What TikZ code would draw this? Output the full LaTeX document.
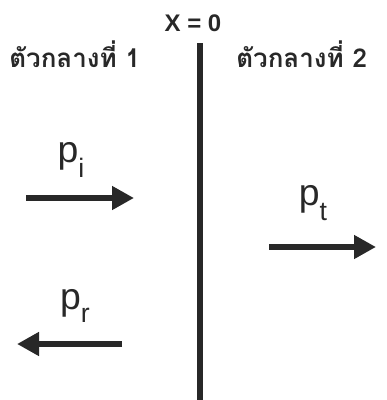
\documentclass[tikz,border=0pt]{standalone}
\usepackage{fontspec}
\setmainfont{Liberation Sans}
\newfontfamily\thaifont[Script=Thai]{Loma}
\usetikzlibrary{arrows.meta,positioning}
\definecolor{inkgray}{RGB}{40,40,40}

\begin{document}
\begin{tikzpicture}[x=0.75pt,y=-0.75pt,
    medium/.style={font=\thaifont\bfseries\fontsize{19.5}{19.5}\selectfont,
      text=inkgray,inner sep=0pt,anchor=west},
    plabel/.style={font=\fontsize{28}{28}\selectfont,text=inkgray,inner sep=0pt},
    wall/.style={draw=inkgray,line width=4.5pt},
    parr/.style={draw=inkgray,line width=4.5pt,
      -{Triangle[length=16.5pt,width=17pt]}}
  ]
    \useasboundingbox (0,0) rectangle (386,400);
    % interface
    \node[font=\bfseries\fontsize{18}{18}\selectfont,text=inkgray,inner sep=0pt]
      (xzero) at (193,23) {X = 0};
    \coordinate (walltop) at (200,43);
    \coordinate (wallbot) at (200,400);
    \draw[wall] (walltop) -- (wallbot);
    % media
    \node[medium] (med1) at (9,54) {ตัวกลางที่ 1};
    \node[medium] (med2) at (236,54) {ตัวกลางที่ 2};
    % momenta
    \node[plabel] (pi) at (71,160) {p\raisebox{-0.38em}{\fontsize{20}{20}\selectfont i}};
    \coordinate (pi-a) at (26,198);
    \coordinate (pi-b) at (134,198);
    \draw[parr] (pi-a) -- (pi-b);
    \node[plabel] (pt) at (313,203) {p\raisebox{-0.38em}{\fontsize{20}{20}\selectfont t}};
    \coordinate (pt-a) at (269,247);
    \coordinate (pt-b) at (376,247);
    \draw[parr] (pt-a) -- (pt-b);
    \node[plabel] (pr) at (75,306) {p\raisebox{-0.35em}{\fontsize{20}{20}\selectfont r}};
    \coordinate (pr-a) at (122,344);
    \coordinate (pr-b) at (17,344);
    \draw[parr] (pr-a) -- (pr-b);
\end{tikzpicture}
\end{document}
